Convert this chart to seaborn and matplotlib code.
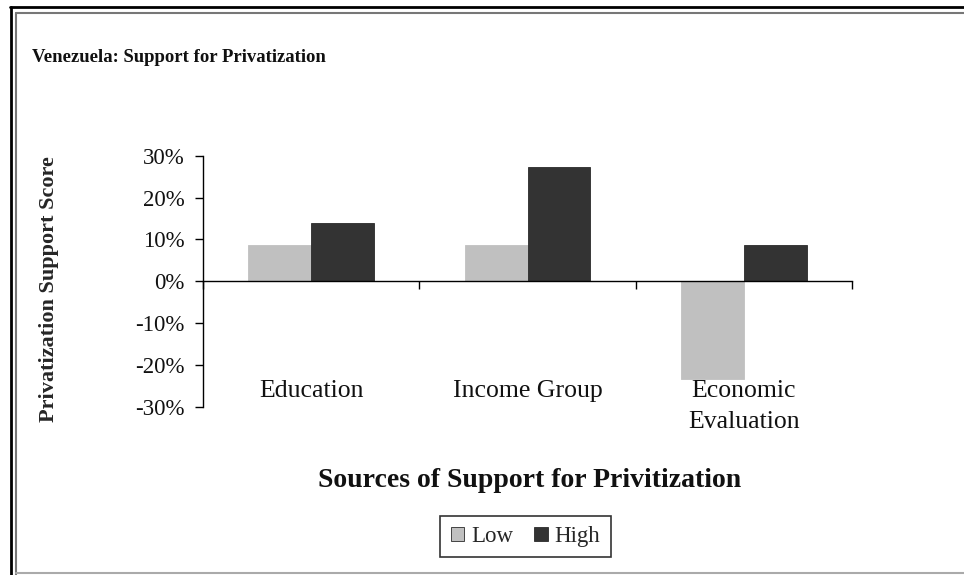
import pandas as pd
import seaborn as sns
import matplotlib.pyplot as plt
from matplotlib.lines import Line2D
from matplotlib.ticker import PercentFormatter

# chart values
categories = ['Education', 'Income Group', 'Economic\nEvaluation']
groups = ['Low', 'High']
low_values = [0.087, 0.087, -0.233]
high_values = [0.14, 0.274, 0.087]
y_ticks = [-0.3, -0.2, -0.1, 0.0, 0.1, 0.2, 0.3]

df = pd.DataFrame({
    'category': categories * 2,
    'group': ['Low'] * 3 + ['High'] * 3,
    'score': low_values + high_values,
})

sns.set_theme(style='white')
plt.rcParams['font.family'] = ['Liberation Serif', 'DejaVu Serif']
plt.rcParams['axes.unicode_minus'] = False

fig = plt.figure(figsize=(9.64, 5.75), dpi=100)
ax = fig.add_axes([0.2106, 0.2927, 0.6732, 0.4365])

sns.barplot(data=df, x='category', y='score', hue='group', hue_order=groups,
            palette={'Low': '#c0c0c0', 'High': '#333333'}, width=0.58, gap=0,
            edgecolor='#2a2a2a', linewidth=0.6, ax=ax, legend=True)

# light bars have no dark outline
for bar in ax.containers[0]:
    bar.set_edgecolor('#c0c0c0')

ax.set_ylim(-0.3, 0.3)
ax.set_xlim(-0.5, 2.5)
ax.set_yticks(y_ticks)
ax.yaxis.set_major_formatter(PercentFormatter(1.0, decimals=0))
ax.tick_params(axis='y', direction='out', length=6, width=1, color='black',
               left=True, labelsize=16.5, pad=7, labelcolor='#111111')

# category axis sits at zero, ticks between categories
ax.spines['bottom'].set_position(('data', 0))
ax.spines['top'].set_visible(False)
ax.spines['right'].set_visible(False)
for side in ['left', 'bottom']:
    ax.spines[side].set_color('black')
    ax.spines[side].set_linewidth(1)
ax.set_xticks([-0.5, 0.5, 1.5, 2.5])
ax.set_xticklabels([])
ax.tick_params(axis='x', direction='out', length=6, width=1, color='black', bottom=True)
for i, name in enumerate(categories):
    ax.text(i, -0.236, name, ha='center', va='top', fontsize=18.5, linespacing=1.55,
            color='#111111')

ax.set_xlabel('')
ax.set_ylabel('Privatization Support Score', fontsize=16, fontweight='bold')
ax.yaxis.set_label_coords(-0.222, 0.47)

fig.text(0.033, 0.9, 'Venezuela: Support for Privatization', fontsize=13.5,
         fontweight='bold', ha='left', va='center', color='#111111')
fig.text(0.549, 0.165, 'Sources of Support for Privitization', fontsize=20,
         fontweight='bold', ha='center', va='center', color='#111111')

leg = ax.legend(loc='center', bbox_to_anchor=(0.545, 0.067), bbox_transform=fig.transFigure,
                ncol=2, frameon=True, fancybox=False, fontsize=16.5, handlelength=0.6,
                handleheight=0.6, handletextpad=0.3, columnspacing=0.9,
                borderpad=0.45, borderaxespad=0)
leg.get_frame().set_edgecolor('black')
leg.get_frame().set_linewidth(1.2)

# double frame around the chart
fig.add_artist(Line2D([0.01, 1.0], [0.988, 0.988], color='black', lw=2, transform=fig.transFigure))
fig.add_artist(Line2D([0.011, 0.011], [0.988, 0.0], color='black', lw=2, transform=fig.transFigure))
fig.add_artist(Line2D([0.017, 1.0], [0.977, 0.977], color='#777777', lw=1.5, transform=fig.transFigure))
fig.add_artist(Line2D([0.017, 0.017], [0.977, 0.0], color='#777777', lw=1.5, transform=fig.transFigure))
fig.add_artist(Line2D([0.017, 1.0], [0.003, 0.003], color='#aaaaaa', lw=1.5, transform=fig.transFigure))

fig.savefig('out.png', dpi=100)
